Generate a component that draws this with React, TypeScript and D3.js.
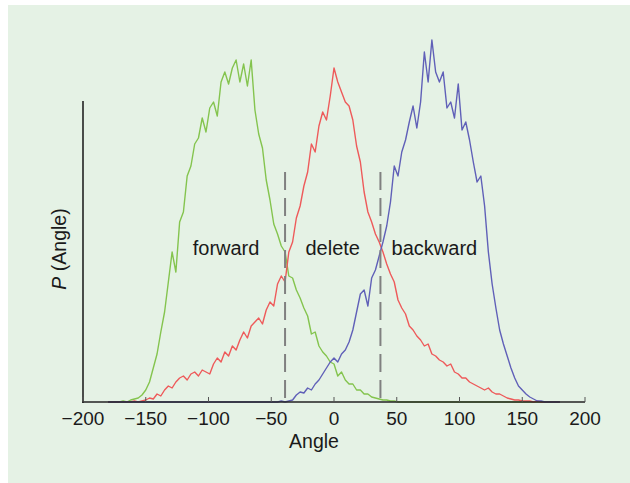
import React from "react";
import * as d3 from "d3";

// Angle grid (degrees) shared by the three histograms
const angles: number[] = d3.range(-180, 181, 3);

// P(Angle) values (arbitrary units), one per angle in `angles`
const forwardValues: number[] = [
  0, 0, 0, 0, 1, 0, 2, 3, 4, 7,
  12, 20, 34, 48, 70, 90, 120, 150, 130, 180,
  190, 226, 236, 258, 264, 284, 270, 294, 300, 286,
  320, 330, 318, 334, 342, 320, 338, 316, 342, 292,
  268, 254, 222, 202, 178, 168, 156, 150, 126, 124,
  112, 104, 94, 86, 68, 70, 56, 50, 46, 40,
  38, 26, 30, 22, 18, 18, 12, 12, 8, 8,
  5, 4, 3, 2, 2, 1, 1, 0, 0, 0,
  0, 0, 0, 0, 0, 0, 0, 0, 0, 0,
  0, 0, 0, 0, 0, 0, 0, 0, 0, 0,
  0, 0, 0, 0, 0, 0, 0, 0, 0, 0,
  0, 0, 0, 0, 0, 0, 0, 0, 0, 0,
  0,
];

const deleteValues: number[] = [
  0, 0, 0, 0, 0, 0, 0, 1, 0, 1,
  2, 4, 3, 8, 6, 12, 16, 14, 20, 24,
  26, 22, 28, 30, 26, 32, 30, 28, 38, 44,
  40, 50, 46, 56, 52, 62, 70, 64, 76, 80,
  84, 78, 92, 100, 96, 118, 126, 120, 150, 160,
  184, 196, 216, 230, 258, 250, 276, 290, 282, 306,
  334, 320, 310, 300, 296, 282, 256, 240, 210, 190,
  180, 168, 160, 150, 138, 128, 120, 102, 94, 88,
  76, 72, 66, 62, 56, 58, 48, 46, 42, 40,
  36, 38, 30, 28, 24, 24, 20, 18, 16, 14,
  12, 14, 10, 8, 8, 6, 4, 3, 2, 2,
  1, 1, 1, 0, 1, 0, 0, 0, 0, 0,
  0,
];

const backwardValues: number[] = [
  0, 0, 0, 0, 0, 0, 0, 0, 0, 0,
  0, 0, 0, 0, 0, 0, 0, 0, 0, 0,
  0, 0, 0, 0, 0, 0, 0, 0, 0, 0,
  0, 0, 0, 0, 0, 0, 0, 0, 0, 0,
  0, 0, 0, 0, 0, 0, 1, 0, 1, 2,
  7, 10, 9, 14, 12, 18, 22, 28, 34, 40,
  44, 40, 48, 52, 60, 72, 90, 108, 112, 96,
  124, 132, 146, 160, 176, 200, 236, 226, 250, 262,
  280, 296, 274, 300, 350, 320, 362, 330, 320, 330,
  294, 300, 284, 318, 272, 280, 262, 240, 220, 226,
  196, 150, 118, 94, 72, 58, 46, 34, 24, 16,
  12, 8, 5, 3, 1, 1, 0, 0, 0, 0,
  0,
];

const xTicks: number[] = [-200, -150, -100, -50, 0, 50, 100, 150, 200];
const boundaries: number[] = [-39, 37];
const regionLabels: { text: string; angle: number }[] = [
  { text: "forward", angle: -86 },
  { text: "delete", angle: -1 },
  { text: "backward", angle: 80 },
];

const seriesList = [
  { name: "forward", values: forwardValues, color: "#84c44e" },
  { name: "delete", values: deleteValues, color: "#ee5a5a" },
  { name: "backward", values: backwardValues, color: "#6060b8" },
];

const W = 630;
const H = 483;
const FONT = "'Liberation Sans', Arial, sans-serif";

export default function App() {
  const x = d3.scaleLinear().domain([-200, 200]).range([83, 585]);
  const y = d3.scaleLinear().domain([0, 300]).range([402, 102]);
  const line = d3
    .line<number>()
    .x((_, i) => x(angles[i]))
    .y((v) => y(v));
  const fmt = d3.format("d");

  return (
    <svg
      width={W}
      height={H}
      style={{ position: "absolute", left: 0, top: 0, display: "block" }}
    >
      <rect x={8} y={5} width={W - 8} height={H - 5} fill="#e5f2e5" />

      {seriesList.map((s) => (
        <path
          key={s.name}
          d={line(s.values) || ""}
          fill="none"
          stroke={s.color}
          strokeWidth={1.4}
          strokeLinejoin="round"
        />
      ))}

      {boundaries.map((b) => (
        <line
          key={b}
          x1={x(b)}
          x2={x(b)}
          y1={172}
          y2={402}
          stroke="#808080"
          strokeWidth={2}
          strokeDasharray="18,8"
        />
      ))}

      {/* axes */}
      <line x1={83} x2={83} y1={101} y2={403} stroke="#222" strokeWidth={1.6} />
      <line x1={82} x2={585} y1={402} y2={402} stroke="#222" strokeWidth={1.6} />
      {xTicks.map((t) => (
        <g key={t}>
          <line x1={x(t)} x2={x(t)} y1={402} y2={397} stroke="#555" strokeWidth={1} />
          <text
            x={x(t)}
            y={425}
            textAnchor="middle"
            fontFamily={FONT}
            fontSize={19}
            fill="#1a1a1a"
          >
            {fmt(t)}
          </text>
        </g>
      ))}
      <text
        x={314}
        y={448}
        textAnchor="middle"
        fontFamily={FONT}
        fontSize={19.5}
        fill="#1a1a1a"
      >
        Angle
      </text>
      <text
        transform="translate(66,249) rotate(-90)"
        textAnchor="middle"
        fontFamily={FONT}
        fontSize={19.5}
        fill="#1a1a1a"
      >
        <tspan fontStyle="italic">P</tspan> (Angle)
      </text>

      {regionLabels.map((l) => (
        <text
          key={l.text}
          x={x(l.angle)}
          y={255}
          textAnchor="middle"
          fontFamily={FONT}
          fontSize={20}
          fill="#1a1a1a"
        >
          {l.text}
        </text>
      ))}
    </svg>
  );
}
